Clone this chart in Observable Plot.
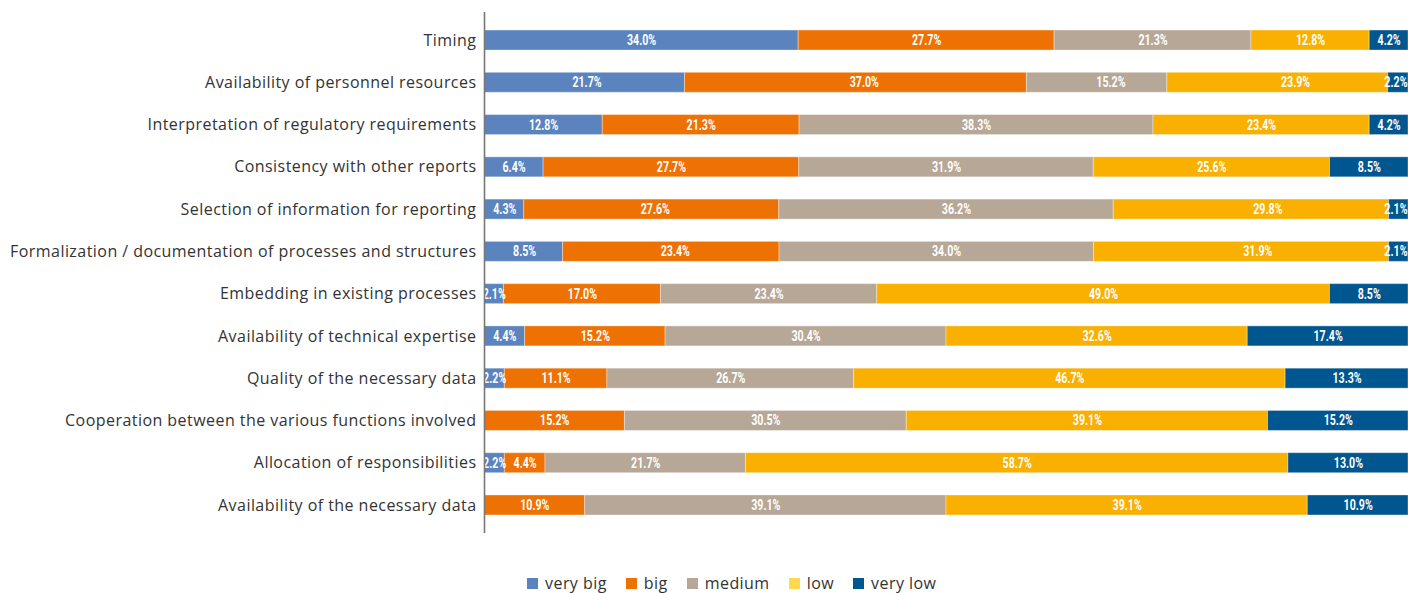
<!DOCTYPE html>
<html>
<head>
<meta charset="utf-8">
<script src="https://cdn.jsdelivr.net/npm/d3@7"></script>
<script src="https://cdn.jsdelivr.net/npm/@observablehq/plot@0.6"></script>
<style>
  html, body { margin: 0; padding: 0; background: #fff; }
  #chart { position: relative; width: 1408px; height: 593px; }
  #legend { position: absolute; left: 527px; top: 573px; display: flex; align-items: center;
    font-family: "Open Sans", Roboto, sans-serif; font-size: 16px; letter-spacing: 0.45px; color: #333; line-height: 20px; }
  #legend .item { display: flex; align-items: center; margin-right: 19px; }
  #legend .sw { width: 11px; height: 11px; margin-right: 7px; }
</style>
</head>
<body>
<div id="chart"></div>
<script>
const categories = [
  "Timing",
  "Availability of personnel resources",
  "Interpretation of regulatory requirements",
  "Consistency with other reports",
  "Selection of information for reporting",
  "Formalization / documentation of processes and structures",
  "Embedding in existing processes",
  "Availability of technical expertise",
  "Quality of the necessary data",
  "Cooperation between the various functions involved",
  "Allocation of responsibilities",
  "Availability of the necessary data"
];
const levels = ["very big", "big", "medium", "low", "very low"];
const barColors = ["#5B84BF", "#EE7203", "#B7A797", "#F9B000", "#00568F"];
const legendColors = ["#5B84BF", "#EE7203", "#B7A797", "#FFD84D", "#00568F"];

const veryBig = [34.0, 21.7, 12.8, 6.4, 4.3, 8.5, 2.1, 4.4, 2.2, 0, 2.2, 0];
const big     = [27.7, 37.0, 21.3, 27.7, 27.6, 23.4, 17.0, 15.2, 11.1, 15.2, 4.4, 10.9];
const medium  = [21.3, 15.2, 38.3, 31.9, 36.2, 34.0, 23.4, 30.4, 26.7, 30.5, 21.7, 39.1];
const low     = [12.8, 23.9, 23.4, 25.6, 29.8, 31.9, 49.0, 32.6, 46.7, 39.1, 58.7, 39.1];
const veryLow = [4.2, 2.2, 4.2, 8.5, 2.1, 2.1, 8.5, 17.4, 13.3, 15.2, 13.0, 10.9];

const series = [veryBig, big, medium, low, veryLow];
const data = [];
categories.forEach((c, i) => {
  series.forEach((s, j) => {
    data.push({category: c, level: levels[j], value: s[i]});
  });
});
const nonZero = data.filter(d => d.value > 0);
// tiny last segments: label anchored to the right end so it is not cut off
const isEdge = d => d.level === "very low" && d.value < 3;
const inner = nonZero.filter(d => !isEdge(d));
const edge = nonZero.filter(isEdge);
const fmt = d => d.value.toFixed(1) + "%";

const stackOpts = {y: "category", x: "value", z: "level", offset: "normalize", order: levels};
const labelStyle = {fill: "white", fontWeight: "bold", fontSize: 14, fontFamily: "Roboto, sans-serif"};

const chart = Plot.plot({
  width: 1408,
  height: 546,
  marginLeft: 484,
  marginRight: 0,
  marginTop: 12,
  marginBottom: 13,
  style: {fontFamily: "'Open Sans', Roboto, sans-serif", background: "#fff"},
  x: {axis: null, domain: [0, 1]},
  y: {domain: categories, round: false, paddingInner: 0.527, paddingOuter: 0.4265, label: null, tickSize: 0, tickPadding: 8},
  color: {domain: levels, range: barColors},
  marks: [
    Plot.barX(nonZero, Plot.stackX({...stackOpts, fill: "level", stroke: "#fff", strokeOpacity: 0.35, strokeWidth: 1})),
    Plot.text(inner, Plot.stackX({...stackOpts, text: fmt, ...labelStyle})),
    Plot.text(edge, {x: () => 1, y: "category", text: fmt, textAnchor: "end", dx: -1, ...labelStyle}),
    Plot.ruleX([0], {stroke: "#777", strokeWidth: 1.6})
  ]
});

d3.select(chart).selectAll('g[aria-label="y-axis tick label"]').attr("font-size", 16).attr("fill", "#333");
d3.select(chart).selectAll('g[aria-label="y-axis tick label"] text')
  .style("font-size", "16px").style("fill", "#333").style("letter-spacing", "0.45px");
// condense bar labels
d3.select(chart).selectAll('g[aria-label="text"] text').each(function() {
  const t = this.getAttribute("transform") || "";
  this.setAttribute("transform", t + " scale(0.76,1)");
});

const root = document.getElementById("chart");
root.appendChild(chart);

const legend = document.createElement("div");
legend.id = "legend";
levels.forEach((l, i) => {
  const item = document.createElement("div");
  item.className = "item";
  const sw = document.createElement("div");
  sw.className = "sw";
  sw.style.background = legendColors[i];
  const tx = document.createElement("span");
  tx.textContent = l;
  item.appendChild(sw);
  item.appendChild(tx);
  legend.appendChild(item);
});
root.appendChild(legend);
</script>
</body>
</html>
